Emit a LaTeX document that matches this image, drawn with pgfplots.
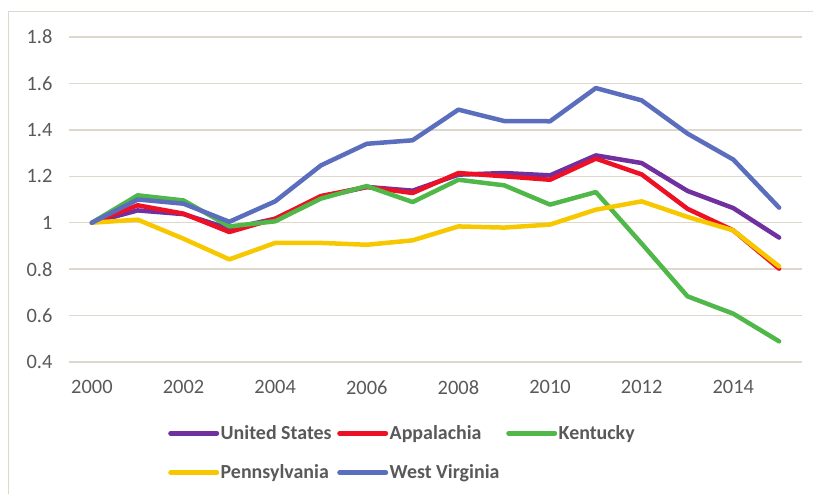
\documentclass[border=0pt]{standalone}
\usepackage{pgfplots}
\pgfplotsset{compat=1.18}
\usepackage{fontspec}
\setmainfont{Carlito}
\definecolor{usc}{HTML}{7030A0}
\definecolor{apc}{HTML}{EE1126}
\definecolor{kyc}{HTML}{50B848}
\definecolor{pac}{HTML}{F7C800}
\definecolor{wvc}{HTML}{5B6EBE}
\definecolor{gridc}{HTML}{DDD8CB}
\definecolor{txt}{HTML}{595959}
\begin{document}
\begin{tikzpicture}
\useasboundingbox (0,0) rectangle (813bp,494bp);
\draw[gridc, line width=1bp] (8bp,0bp) -- (8bp,482bp) -- (813bp,482bp);
\begin{axis}[
  at={(69bp,132bp)}, anchor=south west,
  scale only axis, width=733bp, height=325bp,
  xmin=1999.5, xmax=2015.5, ymin=0.4, ymax=1.8,
  xtick={2000,2002,...,2014},
  ytick={0.4,0.6,...,1.8},
  axis line style={draw=none},
  major tick length=0pt,
  ymajorgrids, grid style={gridc, line width=1.5bp},
  /pgf/number format/assume math mode=true,
  xticklabel style={/pgf/number format/1000 sep={}, yshift=-15bp},
  yticklabel style={xshift=-13bp},
  tick label style={font=\fontsize{20.5}{22}\selectfont, text=txt},
  every axis plot/.append style={line width=4.5bp, line join=round, line cap=round},
  legend columns=3,
  legend style={draw=none, fill=none, at={(rel axis cs:0.131,-0.184)}, anchor=north west,
    font=\fontsize{20}{22}\bfseries\selectfont, text=txt,
    /tikz/every even column/.append style={column sep=0pt},
    row sep=21bp, nodes={inner sep=1.5bp}},
  legend cell align=left,
  legend image code/.code={\draw[#1, line width=5bp, line cap=round] (0bp,0bp) -- (46bp,0bp);},
]
\addplot[usc] coordinates {(2000,1.0) (2001,1.053) (2002,1.037) (2003,0.974) (2004,1.017) (2005,1.11) (2006,1.154) (2007,1.138) (2008,1.207) (2009,1.214) (2010,1.204) (2011,1.29) (2012,1.257) (2013,1.137) (2014,1.063) (2015,0.936)};
\addlegendentry{\makebox[115bp][l]{United States}}
\addplot[apc] coordinates {(2000,1.0) (2001,1.075) (2002,1.039) (2003,0.96) (2004,1.017) (2005,1.115) (2006,1.154) (2007,1.128) (2008,1.214) (2009,1.2) (2010,1.185) (2011,1.276) (2012,1.208) (2013,1.06) (2014,0.967) (2015,0.802)};
\addlegendentry{\makebox[115bp][l]{Appalachia}}
\addplot[kyc] coordinates {(2000,1.0) (2001,1.118) (2002,1.096) (2003,0.984) (2004,1.006) (2005,1.104) (2006,1.158) (2007,1.089) (2008,1.185) (2009,1.161) (2010,1.078) (2011,1.132) (2012,0.91) (2013,0.683) (2014,0.608) (2015,0.489)};
\addlegendentry{\makebox[115bp][l]{Kentucky}}
\addplot[pac] coordinates {(2000,1.0) (2001,1.013) (2002,0.931) (2003,0.842) (2004,0.913) (2005,0.913) (2006,0.905) (2007,0.924) (2008,0.984) (2009,0.979) (2010,0.992) (2011,1.056) (2012,1.092) (2013,1.025) (2014,0.967) (2015,0.812)};
\addlegendentry{\makebox[115bp][l]{Pennsylvania}}
\addplot[wvc] coordinates {(2000,1.0) (2001,1.10) (2002,1.082) (2003,1.004) (2004,1.092) (2005,1.247) (2006,1.34) (2007,1.355) (2008,1.487) (2009,1.438) (2010,1.437) (2011,1.58) (2012,1.527) (2013,1.384) (2014,1.272) (2015,1.065)};
\addlegendentry{\makebox[115bp][l]{West Virginia}}
\end{axis}
\end{tikzpicture}
\end{document}
